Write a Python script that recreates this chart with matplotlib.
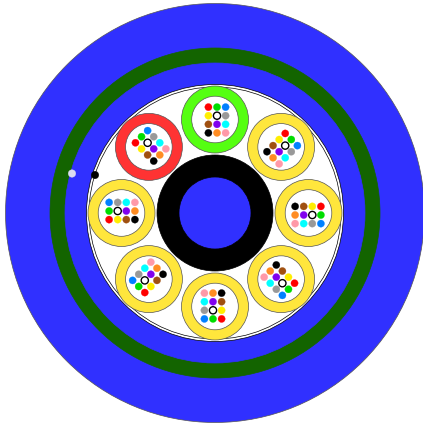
import numpy as np
import matplotlib
matplotlib.use("Agg")
import matplotlib.pyplot as plt
from matplotlib.patches import Circle

# concentric cable layers: radius, colour (outside in)
layer_radius = [209.5, 165, 150, 128.5, 126, 58, 36]
layer_color = ['#3030ff', '#136400', '#3030ff', '#ffffff', '#ffffff', '#000000', '#3030ff']
layer_edge = ['#555555', '#136400', '#3030ff', '#000000', '#000000', '#000000', '#000000']

# buffer tubes, clockwise from the top
tube_angle = [0, 45, 90, 135, 180, 225, 270, 315]
tube_color = ['#55ff11', '#ffe63c', '#ffe63c', '#ffe63c', '#ffe63c', '#ffe63c', '#ffe63c', '#ff3333']

# fibre colours by grid position (row, column) inside a tube
fiber_color = ['#ff0000', '#00dd00', '#0080ff',
               '#ffee00', '#ffffff', '#999999',
               '#a05010', '#8000ee', '#00ffff',
               '#000000', '#ff8c22', '#ff99a8']
fiber_row = [0, 0, 0, 1, 1, 1, 2, 2, 2, 3, 3, 3]
fiber_col = [0, 1, 2, 0, 1, 2, 0, 1, 2, 0, 1, 2]

# two marker dots in the sheath
dot_x = [72, 95]
dot_y = [173.5, 175]
dot_color = ['#dcdcf0', '#000000']

CX, CY = 215, 213
TUBE_ORBIT, TUBE_R, TUBE_IN, FIBER_R, PITCH = 93.5, 33.5, 23.3, 3.6, 8.6
GRID_DX, GRID_DY = 2.0, 0.5

fig = plt.figure(figsize=(4.23, 4.23), dpi=100)
ax = fig.add_axes([0, 0, 1, 1])
ax.set_xlim(0, 423)
ax.set_ylim(423, 0)
ax.axis('off')

for r, c, e in zip(layer_radius, layer_color, layer_edge):
    ax.add_patch(Circle((CX, CY), r, fc=c, ec=e, lw=0.5))

for ang, col in zip(tube_angle, tube_color):
    t = np.radians(ang)
    tx, ty = CX + TUBE_ORBIT * np.sin(t), CY - TUBE_ORBIT * np.cos(t)
    ax.add_patch(Circle((tx, ty), TUBE_R, fc=col, ec='#555555', lw=0.5))
    ax.add_patch(Circle((tx, ty), TUBE_IN, fc='white', ec='#555555', lw=0.5))
    for row, cc, fc in zip(fiber_row, fiber_col, fiber_color):
        lx, ly = (cc - 1) * PITCH + GRID_DX, (row - 1.5) * PITCH + GRID_DY
        x = tx + lx * np.cos(t) - ly * np.sin(t)
        y = ty + lx * np.sin(t) + ly * np.cos(t)
        white = fc == '#ffffff'
        ax.add_patch(Circle((x, y), FIBER_R, fc=fc, ec='black' if white else fc,
                            lw=1.0 if white else 0.2))

for x, y, c in zip(dot_x, dot_y, dot_color):
    ax.add_patch(Circle((x, y), 3.8, fc=c, ec=c, lw=0.2))

fig.savefig('out.png', dpi=100)
